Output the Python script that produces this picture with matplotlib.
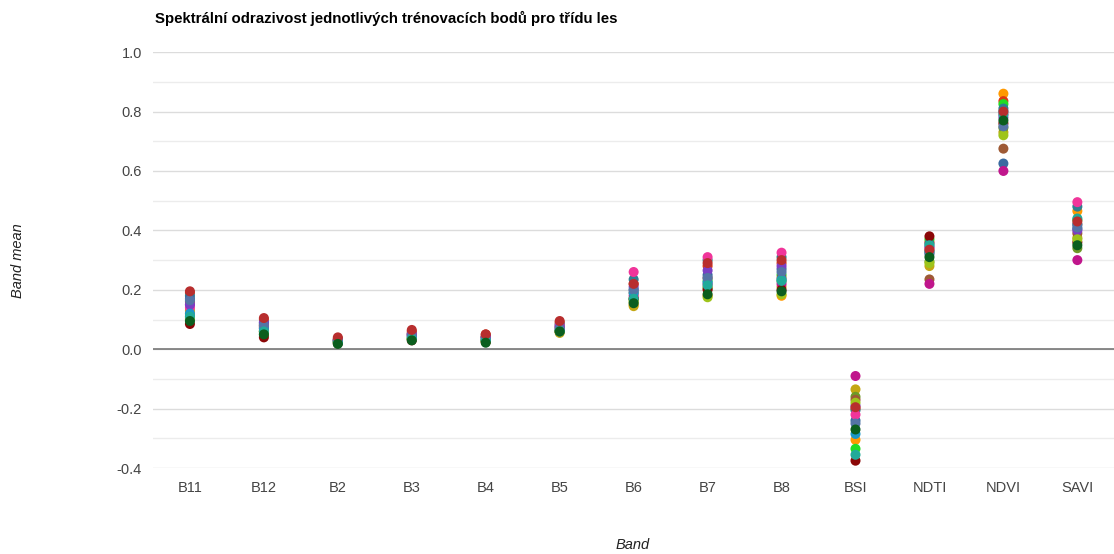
import matplotlib
matplotlib.use("Agg")
import matplotlib.pyplot as plt
from matplotlib.ticker import MultipleLocator

plt.rcParams["font.family"] = ["Liberation Sans", "DejaVu Sans"]

bands = ["B11", "B12", "B2", "B3", "B4", "B5", "B6", "B7", "B8",
         "BSI", "NDTI", "NDVI", "SAVI"]

# Mean band values of individual training points (class "les")
point_colors = [
    "#ff9900", "#dc3912", "#22dd22", "#2e7f90", "#c4a713", "#6e9a27",
    "#9e5a35", "#3a6aa0", "#c0168c", "#f0359a", "#7b3fc4", "#8b0707",
    "#9ec41a", "#1b97c8", "#5574a6", "#22aa99", "#b82e2e", "#0b5e1e",
]
point_values = [
    [0.120, 0.060, 0.020, 0.035, 0.025, 0.060, 0.150, 0.180, 0.180, -0.305, 0.330, 0.860, 0.465],
    [0.190, 0.100, 0.035, 0.060, 0.050, 0.090, 0.220, 0.280, 0.290, -0.200, 0.360, 0.835, 0.420],
    [0.100, 0.050, 0.025, 0.040, 0.030, 0.065, 0.170, 0.230, 0.250, -0.335, 0.370, 0.825, 0.435],
    [0.180, 0.090, 0.030, 0.050, 0.040, 0.085, 0.235, 0.300, 0.310, -0.205, 0.355, 0.810, 0.480],
    [0.130, 0.080, 0.025, 0.035, 0.030, 0.055, 0.145, 0.210, 0.210, -0.135, 0.280, 0.730, 0.375],
    [0.110, 0.060, 0.025, 0.035, 0.030, 0.060, 0.165, 0.205, 0.230, -0.160, 0.295, 0.745, 0.340],
    [0.160, 0.075, 0.035, 0.055, 0.045, 0.075, 0.190, 0.240, 0.240, -0.170, 0.235, 0.675, 0.390],
    [0.170, 0.085, 0.030, 0.050, 0.040, 0.080, 0.200, 0.250, 0.270, -0.240, 0.325, 0.625, 0.405],
    [0.150, 0.070, 0.030, 0.045, 0.040, 0.070, 0.180, 0.220, 0.220, -0.090, 0.220, 0.600, 0.300],
    [0.140, 0.080, 0.030, 0.050, 0.040, 0.080, 0.260, 0.310, 0.325, -0.220, 0.340, 0.790, 0.495],
    [0.150, 0.090, 0.030, 0.050, 0.040, 0.075, 0.210, 0.265, 0.280, -0.190, 0.345, 0.780, 0.400],
    [0.085, 0.040, 0.020, 0.030, 0.025, 0.060, 0.170, 0.200, 0.200, -0.375, 0.380, 0.760, 0.360],
    [0.105, 0.060, 0.025, 0.035, 0.028, 0.060, 0.160, 0.175, 0.185, -0.180, 0.290, 0.720, 0.370],
    [0.120, 0.070, 0.025, 0.040, 0.030, 0.065, 0.190, 0.225, 0.235, -0.285, 0.330, 0.800, 0.420],
    [0.165, 0.080, 0.030, 0.045, 0.035, 0.070, 0.200, 0.240, 0.260, -0.250, 0.320, 0.750, 0.410],
    [0.110, 0.060, 0.020, 0.035, 0.030, 0.060, 0.170, 0.215, 0.230, -0.355, 0.350, 0.790, 0.440],
    [0.195, 0.105, 0.040, 0.065, 0.050, 0.095, 0.220, 0.290, 0.300, -0.195, 0.335, 0.800, 0.430],
    [0.095, 0.050, 0.018, 0.030, 0.022, 0.060, 0.155, 0.185, 0.195, -0.270, 0.310, 0.770, 0.350],
]

title = "Spektrální odrazivost jednotlivých trénovacích bodů pro třídu les"

fig = plt.figure(figsize=(11.14, 5.54), dpi=100)
ax = fig.add_axes([0.1373, 0.155, 0.863, 0.751])
ax.set_axisbelow(True)

x = list(range(len(bands)))
for color, vals in zip(point_colors, point_values):
    ax.scatter(x, vals, s=52, color=color, edgecolors="none", zorder=3)

ax.set_xlim(-0.5, len(bands) - 0.5)
ax.set_ylim(-0.4, 1.0)
ax.yaxis.set_major_locator(MultipleLocator(0.2))
ax.yaxis.set_minor_locator(MultipleLocator(0.1))
ax.grid(which="major", axis="y", color="#dcdcdc", linewidth=1)
ax.grid(which="minor", axis="y", color="#ececec", linewidth=1)
ax.axhline(0, color="#777777", linewidth=1.2, zorder=2)

ax.set_xticks(x)
ax.set_xticklabels(bands)
ax.set_yticks([-0.4, -0.2, 0.0, 0.2, 0.4, 0.6, 0.8, 1.0])
ax.set_yticklabels(["-0.4", "-0.2", "0.0", "0.2", "0.4", "0.6", "0.8", "1.0"])
ax.tick_params(axis="both", which="both", length=0, labelsize=10.5, colors="#444444")
ax.tick_params(axis="x", pad=9)
ax.tick_params(axis="y", pad=8)
for s in ax.spines.values():
    s.set_visible(False)

fig.text(0.5683, 1 - 545 / 554, "Band", fontsize=10.5, style="italic",
         color="#222222", ha="center", va="center")
fig.text(18 / 1114, 1 - 261 / 554, "Band mean", fontsize=10.5, style="italic",
         color="#222222", ha="center", va="center", rotation=90)

fig.text(0.139, 0.967, title, fontsize=10.8, fontweight="bold", color="#000000",
         ha="left", va="center")

fig.savefig("out.png", dpi=100)
